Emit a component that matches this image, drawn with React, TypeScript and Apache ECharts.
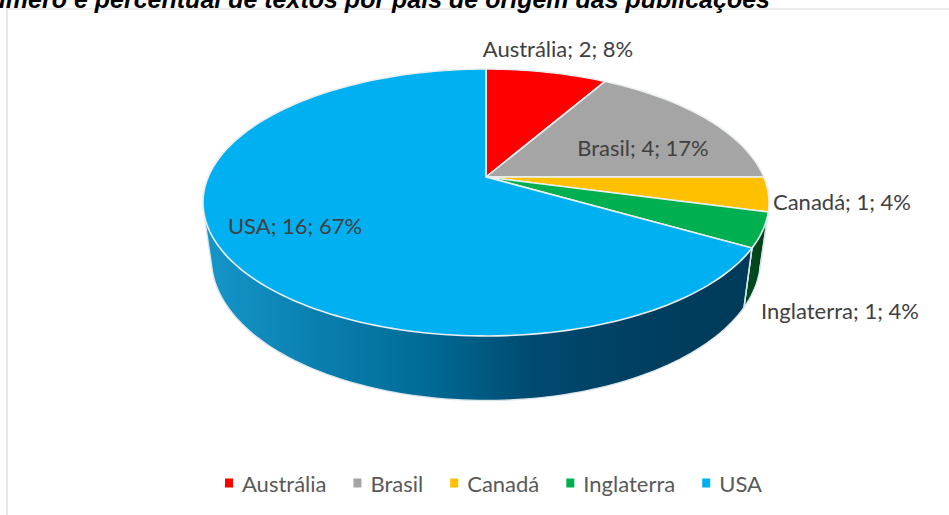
import React, { useEffect, useRef } from "react";
import * as echarts from "echarts";

const countries = ["Austrália", "Brasil", "Canadá", "Inglaterra", "USA"];
const counts = [2, 4, 1, 1, 16];
const percents = [8, 17, 4, 4, 67];
const colors = ["#FF0000", "#A5A5A5", "#FFC000", "#00B050", "#00B0F0"];
const wallStops = [
  ["#C00000", "#7A0000"],
  ["#6E6E6E", "#4A4A4A"],
  ["#A07800", "#705400"],
  ["#004A20", "#0A3A18"],
  ["#1696CA", "#0A80B0", "#006C97", "#004A70", "#003F60", "#003A58"],
];
const titleText = "Número e percentual de textos por país de origem das publicações";

// Projection of the pie disc, seen from above with perspective
const CX = 486;
const CY = 177;
const K = 0.191;
const SPREAD_X = 277.8;
const SPREAD_Y = 128.6;
const FLOOR_X = 0.97;
const FLOOR_Y = 1.06;
const FLOOR_DROP = 55;

// Label anchors (centres) per country
const labelAnchors = [
  [558, 48],
  [643, 147],
  [842, 201],
  [840, 310],
  [295, 225],
];

const FONT = "Lato";
const total = counts.reduce((a, b) => a + b, 0);

function project(theta: number, floor = false): number[] {
  const x = Math.sin(theta);
  const y = Math.cos(theta);
  const d = 1 + K * y;
  const sx = (SPREAD_X * x) / d;
  const sy = (-SPREAD_Y * y) / d;
  return floor
    ? [CX + sx * FLOOR_X, CY + FLOOR_DROP + sy * FLOOR_Y]
    : [CX + sx, CY + sy];
}

function sliceRange(index: number): number[] {
  const before = counts.slice(0, index).reduce((a, b) => a + b, 0);
  return [
    (before / total) * Math.PI * 2,
    ((before + counts[index]) / total) * Math.PI * 2,
  ];
}

function arcPoints(a0: number, a1: number, floor = false): number[][] {
  const steps = Math.max(4, Math.ceil(((a1 - a0) / Math.PI) * 120));
  const pts: number[][] = [];
  for (let i = 0; i <= steps; i++) {
    pts.push(project(a0 + ((a1 - a0) * i) / steps, floor));
  }
  return pts;
}

// Convex outline of the wall; the inner side stays hidden under the top face
function convexHull(points: number[][]): number[][] {
  const sorted = [...points].sort((a, b) => a[0] - b[0] || a[1] - b[1]);
  const cross = (o: number[], a: number[], b: number[]) =>
    (a[0] - o[0]) * (b[1] - o[1]) - (a[1] - o[1]) * (b[0] - o[0]);
  const half = (list: number[][]) => {
    const out: number[][] = [];
    for (const p of list) {
      while (out.length >= 2 && cross(out[out.length - 2], out[out.length - 1], p) <= 0) {
        out.pop();
      }
      out.push(p);
    }
    out.pop();
    return out;
  };
  return [...half(sorted), ...half([...sorted].reverse())];
}

function renderSlice(index: number) {
  return (_params: any, api: any) => {
    const shown = api.value(0);
    const [a0, a1] = sliceRange(index);
    const children: any[] = [];

    // Outer wall, limited to the part that faces the viewer
    const w0 = Math.max(a0, Math.PI * 0.5);
    const w1 = Math.min(a1, Math.PI * 1.62);
    if (w1 > w0) {
      const stops = wallStops[index];
      const top = arcPoints(w0, w1);
      const low = arcPoints(w0, w1, true);
      const xs = top.map((p) => p[0]);
      const fill = new echarts.graphic.LinearGradient(
        Math.min(...xs),
        0,
        Math.max(...xs),
        0,
        stops.map((color, i) => ({ offset: i / (stops.length - 1), color })),
        true
      );
      children.push({
        type: "polygon",
        shape: { points: convexHull([...top, ...low]) },
        style: { fill, stroke: "#DCE6EA", lineWidth: 1.3 },
      });
      children.push({
        type: "polyline",
        shape: { points: [top[0], low[0]] },
        style: { fill: "none", stroke: "#DCE6EA", lineWidth: 1.4 },
      });
    }

    // Top face
    children.push({
      type: "polygon",
      shape: { points: [[CX, CY], ...arcPoints(a0, a1)] },
      style: { fill: colors[index], stroke: "#EAEFF2", lineWidth: 1.6 },
      z2: 5,
    });

    // Value label
    const [lx, ly] = labelAnchors[index];
    children.push({
      type: "text",
      z2: 10,
      style: {
        x: lx,
        y: ly,
        text: `${countries[index]}; ${shown}; ${percents[index]}%`,
        font: `22px ${FONT}`,
        fill: "#404040",
        align: "center",
        verticalAlign: "middle",
      },
    });
    return { type: "group", children };
  };
}

export default function App() {
  const ref = useRef<HTMLDivElement>(null);
  useEffect(() => {
    const chart = echarts.init(ref.current!, undefined, { renderer: "svg" });
    chart.setOption({
      animation: false,
      backgroundColor: "#FFFFFF",
      legend: {
        data: countries,
        top: 467,
        left: 220,
        icon: "rect",
        itemWidth: 8,
        itemHeight: 9,
        itemGap: 27,
        textStyle: {
          fontFamily: FONT,
          fontSize: 22,
          color: "#595959",
          padding: [0, 0, 0, 4],
        },
      },
      graphic: [
        {
          type: "polyline",
          shape: { points: [[7, 515], [7, 9], [949, 9]] },
          style: { fill: "none", stroke: "#D9D9D9", lineWidth: 1.2 },
        },
        {
          type: "text",
          style: {
            x: 770,
            y: 11,
            text: titleText,
            font: "italic bold 25px 'Liberation Sans'",
            fill: "#000000",
            align: "right",
            verticalAlign: "bottom",
          },
        },
      ],
      series: countries.map((name, i) => ({
        type: "custom",
        name,
        coordinateSystem: "none",
        itemStyle: { color: colors[i] },
        data: [counts[i]],
        renderItem: renderSlice(i),
      })),
    });
    return () => chart.dispose();
  }, []);
  return (
    <div
      ref={ref}
      style={{ position: "fixed", left: 0, top: 0, width: 949, height: 515 }}
    />
  );
}
